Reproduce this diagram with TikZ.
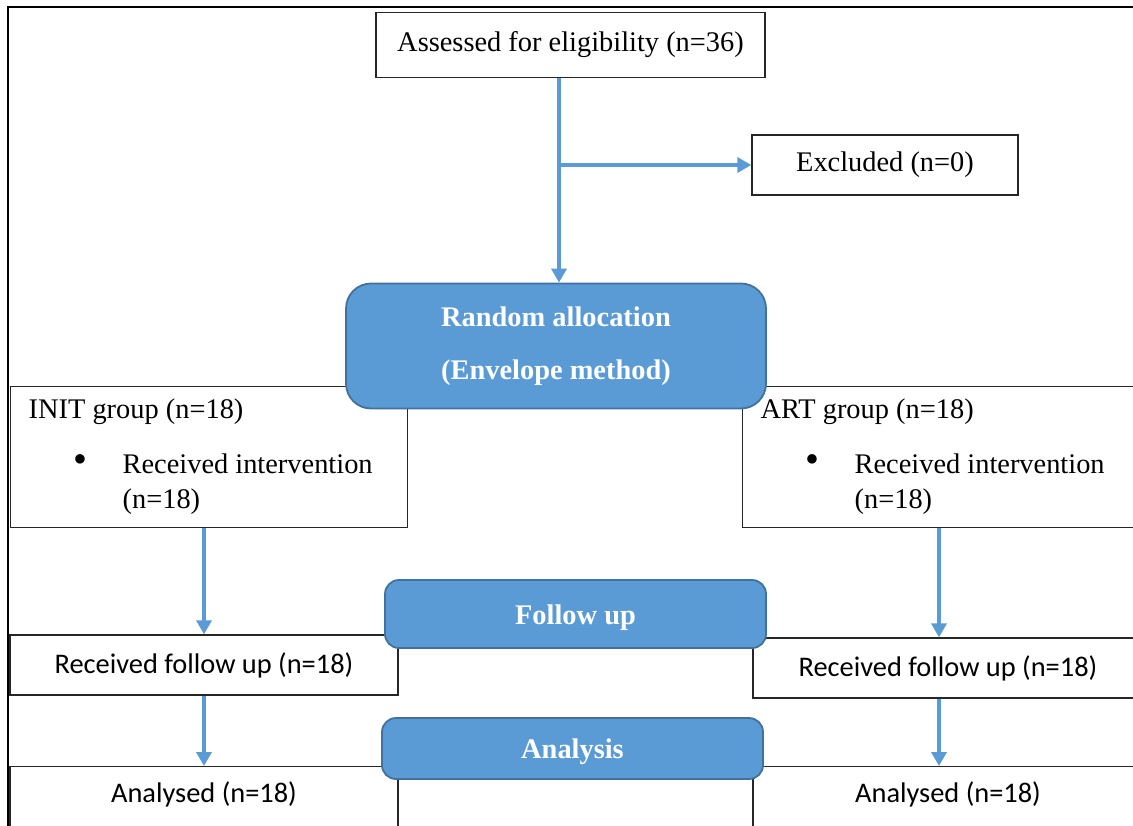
\documentclass[tikz,border=0pt]{standalone}
\usepackage{fontspec}
\setmainfont{Liberation Serif}
\newfontfamily\calibri{Carlito}
\usepackage{xcolor}
\usetikzlibrary{arrows.meta,positioning}
\definecolor{wordblue}{HTML}{5B9BD5}
\definecolor{wordedge}{HTML}{41719C}
\newcommand{\recvint}{\hspace*{45pt}\makebox[49pt][l]{\raisebox{1pt}{\scalebox{1.4}{\textbullet}}}Received intervention\\\hspace*{94pt}(n=18)}

\begin{document}
\begin{tikzpicture}[
  x=1pt, y=-1pt,
  box/.style={draw=black!85, line width=1.3pt, fill=white, inner sep=0pt, font=\fontsize{28.4}{35}\selectfont},
  grpbox/.style={box, align=flush left, anchor=north west, inner xsep=18pt, minimum height=141pt},
  sbox/.style={box, font=\calibri\fontsize{28.4}{35}\selectfont},
  stage/.style={draw=wordedge, line width=1.8pt, fill=wordblue, rounded corners=14pt, text=white, align=center, font=\bfseries\fontsize{28.4}{53}\selectfont},
  arr/.style={draw=wordblue, line width=3.5pt, -{Triangle[length=14pt,width=15pt]}}
]
\useasboundingbox (0,0) rectangle (1133,825);
\clip (0,0) rectangle (1133,825);
% page frame
\draw[line width=1.5pt] (8,840) -- (8,7) -- (1150,7);

% white boxes
\node[box, minimum width=389pt, minimum height=65pt] (assess) at (570.5,45) {Assessed for eligibility (n=36)};
\node[box, minimum width=266pt, minimum height=60pt] (excl) at (885,165) {Excluded (n=0)};
\node[grpbox, text width=361pt] (init) at (10,386) {INIT group (n=18)\\[20pt]\recvint};
\node[grpbox, text width=364pt] (art) at (742,386) {ART group (n=18)\\[20pt]\recvint};
\node[sbox, minimum width=388pt, minimum height=60pt] (recvL) at (204,665) {Received follow up (n=18)};
\node[sbox, minimum width=390pt, minimum height=60pt] (recvR) at (948,668) {Received follow up (n=18)};
\node[sbox, anchor=north, minimum width=388pt, text height=20pt, text depth=30pt, inner ysep=16pt] (anaL) at (204,766) {Analysed (n=18)};
\node[sbox, anchor=north, minimum width=390pt, text height=20pt, text depth=30pt, inner ysep=16pt] (anaR) at (948,766) {Analysed (n=18)};

% blue stage boxes
\node[stage, rounded corners=25pt, minimum width=420pt, minimum height=125pt] (alloc) at (556,346) {Random allocation\\(Envelope method)};
\node[stage, minimum width=381pt, minimum height=68pt, text height=22pt, text depth=2pt] (follow) at (575.5,614) {Follow up};
\node[stage, minimum width=381pt, minimum height=61pt, text height=22pt, text depth=2pt] (analysis) at (572.5,748.5) {Analysis};

% arrows
\coordinate (mcol) at (559,0);
\coordinate (lcol) at (204,0);
\coordinate (rcol) at (939,0);
\draw[arr] (assess.south -| mcol) -- (alloc.north -| mcol);
\draw[arr] (mcol |- excl.west) -- (excl.west);
\draw[arr] (init.south -| lcol) -- (recvL.north);
\draw[arr] (art.south -| rcol) -- (recvR.north -| rcol);
\draw[arr] (recvL.south) -- (anaL.north);
\draw[arr] (recvR.south -| rcol) -- (anaR.north -| rcol);
\end{tikzpicture}
\end{document}
